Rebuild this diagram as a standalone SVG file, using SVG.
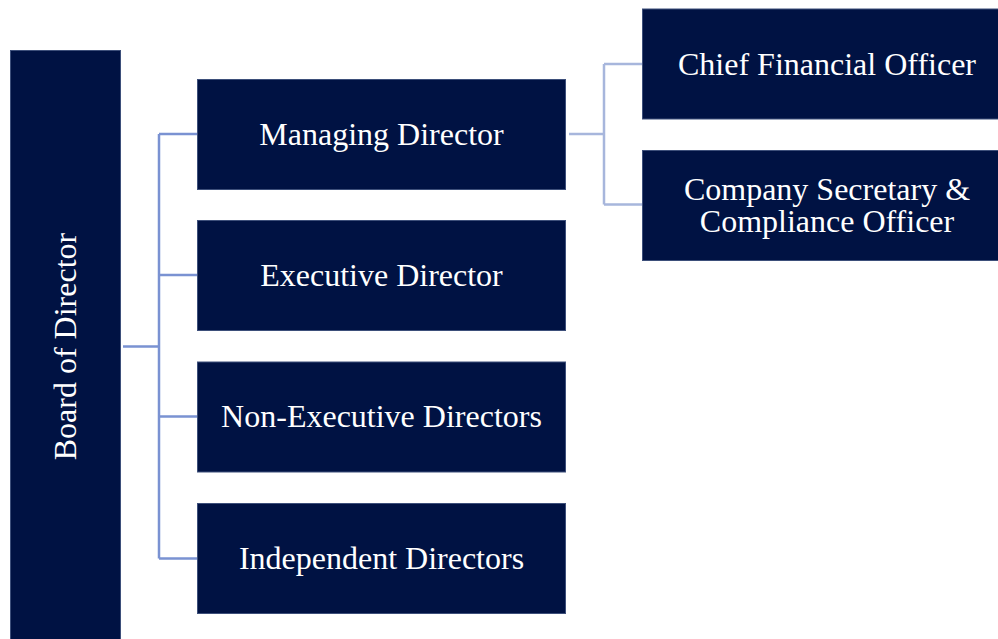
<svg xmlns="http://www.w3.org/2000/svg" width="998" height="639" viewBox="0 0 998 639">
<style>
.box{fill:#001243;stroke:#3d4f7a;stroke-width:1}
.t{font-family:"Liberation Serif","Times New Roman",serif;font-size:32px;fill:#ffffff;text-anchor:middle}
.c1{fill:none;stroke:#7a92d2;stroke-width:2.5}
.c2{fill:none;stroke:#a7b6dc;stroke-width:2.5}
</style>
<rect width="998" height="639" fill="#ffffff"/>
<g id="connectors">
<path class="c1" d="M123 346.5H159M159 134V558.5M159 134H197M159 275H197M159 416.5H197M159 558.5H197"/>
<path class="c2" d="M569 134H604M604 64V204.5M604 64H642M604 204.5H642"/>
</g>
<g id="board">
<rect class="box" x="10.5" y="50.5" width="110" height="600"/>
<text class="t" transform="translate(76 346.5) rotate(-90)">Board of Director</text>
</g>
<g id="managing">
<rect class="box" x="197.5" y="79.5" width="368" height="110"/>
<text class="t" x="381.5" y="145">Managing Director</text>
</g>
<g id="executive">
<rect class="box" x="197.5" y="220.5" width="368" height="110"/>
<text class="t" x="381.5" y="286">Executive Director</text>
</g>
<g id="nonexec">
<rect class="box" x="197.5" y="362" width="368" height="110"/>
<text class="t" x="381.5" y="427">Non-Executive Directors</text>
</g>
<g id="independent">
<rect class="box" x="197.5" y="503.5" width="368" height="110"/>
<text class="t" x="381.5" y="569">Independent Directors</text>
</g>
<g id="cfo">
<rect class="box" x="642.5" y="9" width="360" height="110"/>
<text class="t" x="827" y="75">Chief Financial Officer</text>
</g>
<g id="cs">
<rect class="box" x="642.5" y="150.5" width="360" height="110"/>
<text class="t" x="827" y="200"><tspan x="827" y="200">Company Secretary &amp;</tspan><tspan x="827" y="232">Compliance Officer</tspan></text>
</g>
</svg>
